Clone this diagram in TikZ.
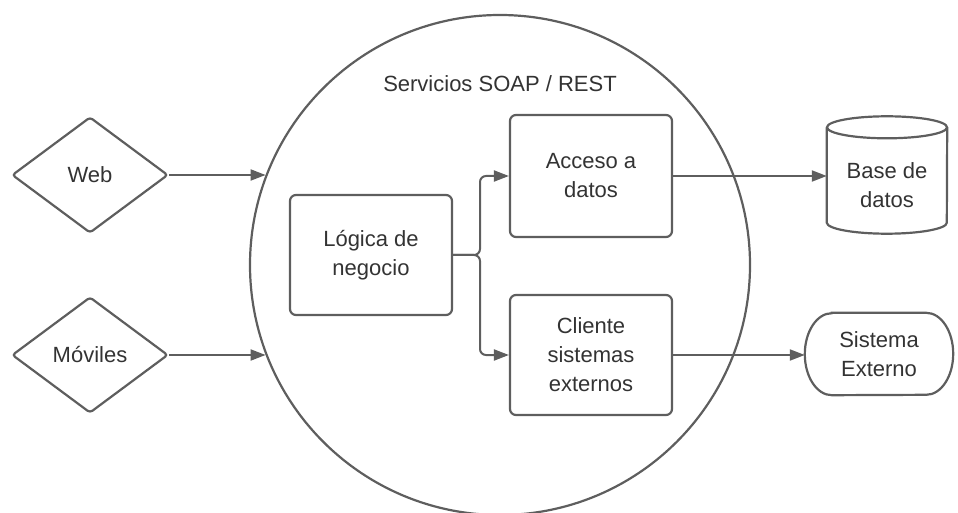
\documentclass[tikz,border=0pt]{standalone}
\usepackage{fontspec}
\setmainfont{Liberation Sans}
\usetikzlibrary{shapes.geometric,arrows.meta,calc}
\definecolor{edge}{HTML}{5E5E5E}
\definecolor{ink}{HTML}{333333}
\begin{document}
\begin{tikzpicture}[x=1pt,y=1pt,
  label text/.style={text=ink,align=center,font=\fontsize{22}{29}\selectfont},
  base/.style={label text,draw=edge,line width=2.2pt},
  outline/.style={draw=edge,line width=2.2pt},
  choice/.style={base,diamond,aspect=1.34,inner sep=0pt,
    minimum width=156pt,minimum height=116pt,rounded corners=3pt},
  box/.style={base,rectangle,rounded corners=6pt,minimum width=162pt,
    minimum height=120pt},
  link/.style={draw=edge,line width=2pt,
    -{Triangle[length=15pt,width=11pt]}},
  ]
\useasboundingbox (0,0) rectangle (958,512);

% service boundary
\node[base,circle,minimum size=500pt,inner sep=0pt] (svc) at (500,247) {};
\node[label text] (title) at (500,428) {Servicios SOAP / REST};

% clients
\node[choice] (web) at (90,337) {Web};
\node[choice] (mov) at (90,157) {Móviles};

% internal components
\node[box] (logica) at (371,257) {Lógica de\\negocio};
\node[box,minimum height=122pt] (acceso) at (591,336) {Acceso a\\datos};
\node[box] (cliente) at (591,157) {Cliente\\sistemas\\externos};

% database cylinder
\node[minimum width=120pt,minimum height=117pt,inner sep=0pt] (db) at (887,337) {};
\draw[outline]
  ($(db.north west)+(0,-11)$) -- ($(db.south west)+(0,11)$)
  arc[start angle=180,end angle=360,x radius=60,y radius=11]
  -- ($(db.north east)+(0,-11)$);
\draw[outline] ($(db.north)+(0,-11)$) ellipse [x radius=60,y radius=11];
\node[label text] (dblabel) at (887,327) {Base de\\datos};

% external system (terminal with elliptic ends)
\node[label text,minimum width=148pt,minimum height=82pt,inner sep=0pt] (ext) at (879,158) {Sistema\\Externo};
\draw[outline]
  ($(ext.north west)+(27,0)$) -- ($(ext.north east)+(-27,0)$)
  arc[start angle=90,end angle=-90,x radius=27,y radius=41]
  -- ($(ext.south west)+(27,0)$)
  arc[start angle=270,end angle=90,x radius=27,y radius=41] -- cycle;

% connectors
\coordinate (fork) at (480,257);
\draw[link] (web.east) -- (web.east -| svc.159);
\draw[link] (mov.east) -- (mov.east -| svc.201);
\draw[link,rounded corners=6pt] (logica.east) -- (fork) |- (acceso.west);
\draw[link,rounded corners=6pt] (logica.east) -- (fork) |- (cliente.west);
\draw[link] (acceso.east) -- (acceso.east -| db.west);
\draw[link] (cliente.east) -- (cliente.east -| ext.west);
\end{tikzpicture}
\end{document}
